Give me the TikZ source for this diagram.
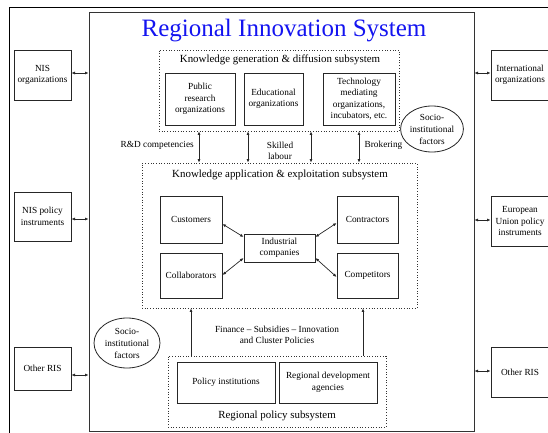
\documentclass[tikz,border=0pt]{standalone}
\usepackage{fontspec}
\setmainfont{Liberation Serif}
\usetikzlibrary{arrows.meta,shapes.geometric}
\definecolor{ristitle}{RGB}{20,20,240}
\begin{document}
\begin{tikzpicture}[x=1pt,y=-1pt,
  frame/.style={draw=black!80, line width=0.8pt},
  box/.style={draw=black!85, line width=0.8pt, inner sep=0pt, align=center,
    font=\fontsize{9.3}{11.5}\selectfont},
  subsys/.style={draw=black!80, dotted, line width=0.7pt, inner sep=0pt},
  subtitle/.style={anchor=base, inner sep=0pt, font=\fontsize{10.9}{12}\selectfont},
  lbl/.style={inner sep=0pt, align=center, font=\fontsize{9.3}{11.5}\selectfont},
  oval/.style={ellipse, draw=black!85, line width=0.8pt, inner sep=0pt, align=center,
    font=\fontsize{9.3}{12}\selectfont},
  tip/.tip={Latex[length=3.6pt,width=3pt]},
  link/.style={draw=black!85, line width=0.7pt, tip-tip},
  uplink/.style={draw=black!85, line width=0.7pt, -tip}
]
\useasboundingbox (0,0) rectangle (548,433);

% outer frame (open to the right and below)
\draw[black, line width=0.9pt] (9,433) -- (9,7) -- (548,7);

% regional innovation system
\node[frame, inner sep=0pt, minimum width=385pt, minimum height=419pt] (main) at (281.5,221.5) {};
\node[anchor=base, inner sep=0pt, text=ristitle, font=\fontsize{25}{30}\selectfont] (title) at (284,37) {Regional Innovation System};

% surrounding systems
\node[box, minimum width=57pt, minimum height=50pt] (nisorg) at (42.5,75) {NIS\\organizations};
\node[box, minimum width=57pt, minimum height=49pt] (nispol) at (42.5,216.5) {NIS policy\\instruments};
\node[box, minimum width=57pt, minimum height=43pt] (othL) at (42.5,368.5) {Other RIS};
\node[box, minimum width=58pt, minimum height=50pt] (intl) at (520,75) {International\\organizations};
\node[box, minimum width=58pt, minimum height=50pt] (eu) at (520,221) {European\\Union policy\\instruments};
\node[box, minimum width=58pt, minimum height=50pt] (othR) at (520,372) {Other RIS};

\coordinate (yA) at (0,73);
\coordinate (yB) at (0,219);
\coordinate (yC) at (0,375);
\coordinate (yD) at (0,220);
\coordinate (yE) at (0,371);
\draw[link] (nisorg.east |- yA) -- (main.west |- yA);
\draw[link] (nispol.east |- yB) -- (main.west |- yB);
\draw[link] (othL.east |- yC) -- (main.west |- yC);
\draw[link] (main.east |- yA) -- (intl.west |- yA);
\draw[link] (main.east |- yD) -- (eu.west |- yD);
\draw[link] (main.east |- yE) -- (othR.west |- yE);

% knowledge generation & diffusion subsystem
\node[subsys, minimum width=240pt, minimum height=81pt] (gen) at (279,90.5) {};
\node[subtitle] (gentitle) at (280,63) {Knowledge generation \& diffusion subsystem};
\node[box, minimum width=70pt, minimum height=52pt] (pub) at (200,99) {Public\\research\\organizations};
\node[box, minimum width=59pt, minimum height=52pt] (edu) at (273.5,99) {Educational\\organizations};
\node[box, minimum width=72pt, minimum height=52pt] (tech) at (359,99) {Technology\\mediating\\organizations,\\incubators, etc.};

% knowledge application & exploitation subsystem
\node[subsys, minimum width=275pt, minimum height=145pt] (app) at (279.5,235.5) {};
\node[subtitle] (apptitle) at (280,177) {Knowledge application \& exploitation subsystem};
\node[box, minimum width=62pt, minimum height=47pt] (cust) at (191,219.5) {Customers};
\node[box, minimum width=62pt, minimum height=45pt] (coll) at (191,275.5) {Collaborators};
\node[box, minimum width=71pt, minimum height=28pt] (ind) at (279.5,248) {Industrial\\companies};
\node[box, minimum width=61pt, minimum height=47pt] (contr) at (367.5,219.5) {Contractors};
\node[box, minimum width=61pt, minimum height=45pt] (comp) at (367.5,275.5) {Competitors};

\coordinate (c1) at (0,224);
\coordinate (c2) at (0,237);
\coordinate (c3) at (0,275);
\coordinate (c4) at (0,258);
\coordinate (c5) at (0,223);
\coordinate (c6) at (0,277);
\draw[link] (cust.east |- c1) -- (ind.west |- c2);
\draw[link] (coll.east |- c3) -- (ind.west |- c4);
\draw[link] (ind.east |- c2) -- (contr.west |- c5);
\draw[link] (ind.east |- c4) -- (comp.west |- c6);

% flows between the two knowledge subsystems
\coordinate (xA) at (199,0);
\coordinate (xB) at (248,0);
\coordinate (xC) at (311,0);
\coordinate (xD) at (359,0);
\draw[link] (gen.south -| xA) -- (app.north -| xA);
\draw[link] (gen.south -| xB) -- (app.north -| xB);
\draw[link] (gen.south -| xC) -- (app.north -| xC);
\draw[link] (gen.south -| xD) -- (app.north -| xD);
\node[lbl, anchor=east] (rd) at (194,145) {R\&D competencies};
\node[lbl] (skill) at (280,151) {Skilled\\labour};
\node[lbl] (brok) at (383.5,145) {Brokering};

% socio-institutional factors
\node[oval, minimum width=57pt, minimum height=46pt] (sociR) at (432,129) {Socio-\\institutional\\factors};
\node[oval, minimum width=66pt, minimum height=50pt] (sociL) at (127,343) {Socio-\\institutional\\factors};

% regional policy subsystem
\node[subsys, minimum width=218pt, minimum height=71pt] (pol) at (277,391.5) {};
\node[subtitle] (poltitle) at (277,418) {Regional policy subsystem};
\node[box, minimum width=98pt, minimum height=41pt] (polinst) at (226,382.5) {Policy institutions};
\node[box, minimum width=98pt, minimum height=41pt] (regdev) at (328,382.5) {Regional development\\agencies};

\coordinate (xE) at (191,0);
\coordinate (xF) at (363,0);
\draw[uplink] (pol.north -| xE) -- (app.south -| xE);
\draw[uplink] (pol.north -| xF) -- (app.south -| xF);
\node[lbl] (finance) at (277,335) {Finance -- Subsidies -- Innovation\\and Cluster Policies};
\end{tikzpicture}
\end{document}
